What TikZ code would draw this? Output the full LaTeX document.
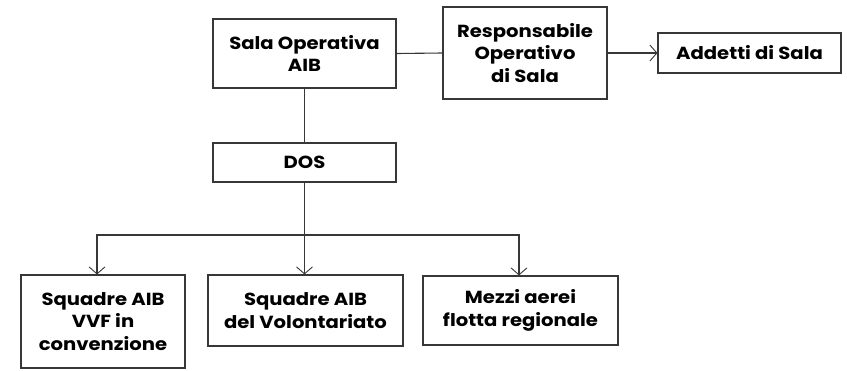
\documentclass[tikz,border=0pt]{standalone}
\usepackage{fontspec}
\setmainfont{Poppins}[FakeStretch=1.12]
\usetikzlibrary{arrows.meta}
\definecolor{ln}{RGB}{55,55,55}
\begin{document}
\begin{tikzpicture}[x=1pt,y=-1pt,
  box/.style={draw=ln,line width=1.1pt,align=center,inner sep=0pt,font=\fontsize{17.5}{22.5}\selectfont\bfseries,text=black},
  conn/.style={draw=ln,line width=1.1pt},
  arr/.style={conn,-{Straight Barb[length=7pt,width=16pt,line width=0.9pt]}}]
\useasboundingbox (0,0) rectangle (847,370);
\node[box,minimum width=183pt,minimum height=69pt] (sala) at (304.5,53.5) {Sala Operativa\\AIB};
\node[box,minimum width=164pt,minimum height=92pt] (resp) at (525,53) {Responsabile\\Operativo\\di Sala};
\node[box,minimum width=183pt,minimum height=40pt] (add) at (749.5,53) {Addetti di Sala};
\node[box,minimum width=183pt,minimum height=39pt] (dos) at (304.5,162.5) {DOS};
\node[box,minimum width=164pt,minimum height=93pt] (vvf) at (103,321.5) {Squadre AIB\\VVF in\\convenzione};
\node[box,minimum width=195pt,minimum height=71pt] (vol) at (305.5,310.5) {Squadre AIB\\del Volontariato};
\node[box,minimum width=195pt,minimum height=69pt] (mez) at (520.5,310.5) {Mezzi aerei\\flotta regionale};
\coordinate (bus) at (304.5,235);
\draw[conn] (sala.east) -- (resp.west);
\draw[arr] (resp.east) -- (add.west);
\draw[conn] (sala.south) -- (dos.north);
\draw[conn] (dos.south) -- (bus);
\draw[arr] (bus) -| ([xshift=-6pt]vvf.north);
\draw[arr] (bus) -- (vol.north -| bus);
\draw[arr] (bus) -| ([xshift=-1.5pt]mez.north);
\end{tikzpicture}
\end{document}
